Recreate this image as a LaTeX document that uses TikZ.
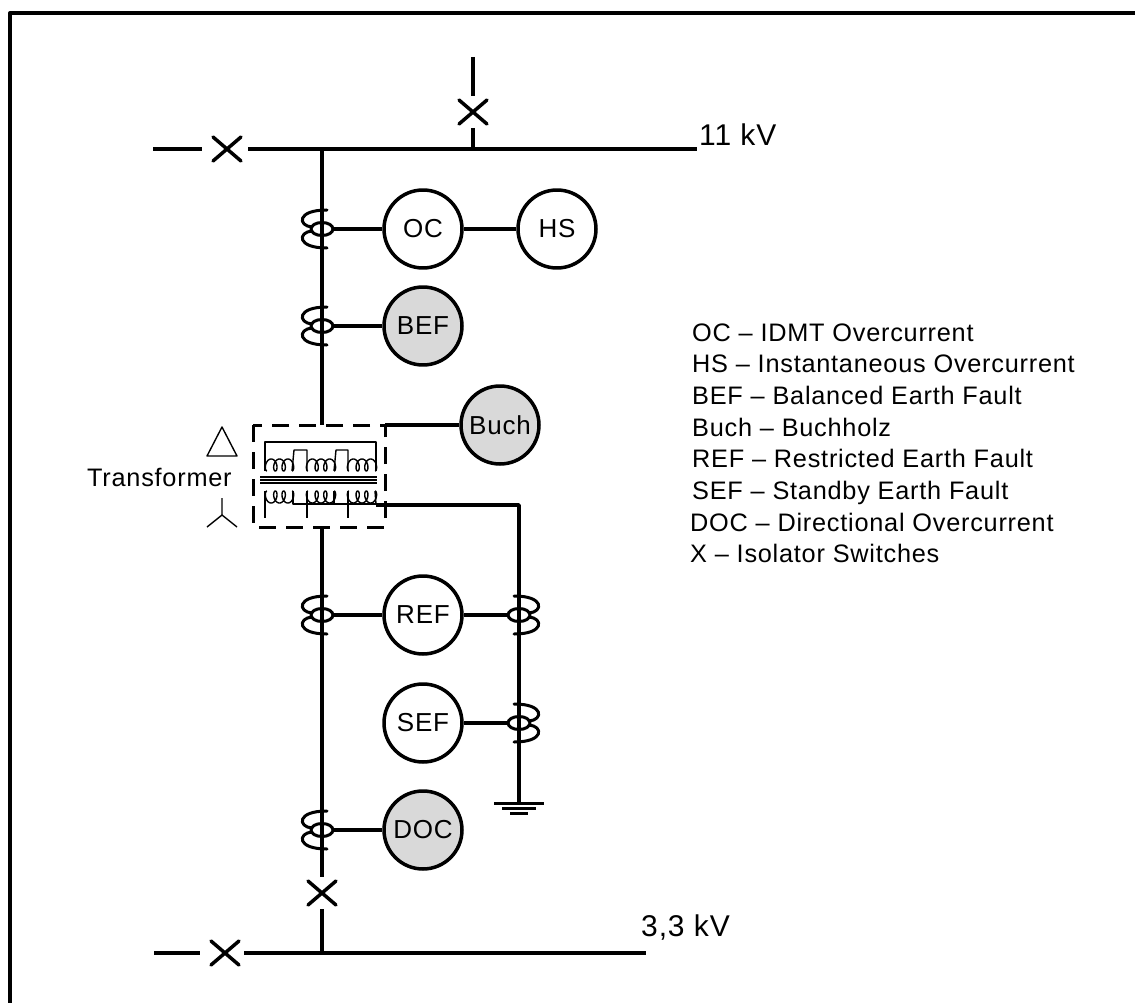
\documentclass[tikz,border=0pt]{standalone}
\usepackage{fontspec}
\setmainfont{Liberation Sans}[LetterSpace=3]
\usetikzlibrary{calc}
\definecolor{relaygray}{HTML}{D9D9D9}
\newcommand\primcoil[3]{%
  \draw[tline] plot[domain=0:1080,samples=121,smooth,variable=\t]
    ({#1+(#2-#1)*(\t/1080)-3.5*sin(\t)},{#3-6+6*cos(\t)});}
\newcommand\seccoil[3]{%
  \draw[tline] plot[domain=0:1080,samples=121,smooth,variable=\t]
    ({#1+(#2-#1)*(\t/1080)-3.5*sin(\t)},{#3+6-6*cos(\t)});}
\begin{document}
\begin{tikzpicture}[x=1pt,y=-1pt,line join=round,
  wire/.style={line width=3.5pt},
  tline/.style={line width=1.4pt},
  relay/.style={circle,draw,line width=3.5pt,minimum size=78pt,inner sep=0pt,fill=white,
    font=\fontsize{26}{30}\selectfont},
  grelay/.style={relay,fill=relaygray},
  lbl/.style={font=\fontsize{25.3}{29}\selectfont,inner sep=0pt,anchor=base west},
  kvlbl/.style={lbl,font=\fontsize{30}{34}\selectfont},
  iso/.pic={\draw[line width=3.5pt,line cap=round] (-14,-12)--(14,12) (-14,12)--(14,-12);},
  ct/.pic={\draw[line width=3pt,line cap=round] (5,-19) .. controls (-26,-19) and (-24,-3) .. (-10,-2);
           \draw[line width=3pt,line cap=round] (-10,2) .. controls (-24,3) and (-26,19) .. (5,19);
           \draw[line width=3pt] (0,0) ellipse (11 and 6.5);}
]
\useasboundingbox (0,0) rectangle (1135,1003);
% frame
\draw[line width=4pt] (10,1010) -- (10,13) -- (1145,13);

% ---------- 11 kV bus ----------
\coordinate (b1a) at (153,149); \coordinate (b1b) at (202,149);
\coordinate (b1c) at (248,149); \coordinate (b1d) at (697,149);
\coordinate (X1) at (227,149);
\draw[wire] (b1a) -- (b1b);
\pic at (X1) {iso};
\draw[wire] (b1c) -- (b1d);
\node[kvlbl] (kv11) at (699,146) {11 kV};
% incoming tap
\coordinate (t1) at (473,57); \coordinate (t2) at (473,96);
\coordinate (X2) at (473,112); \coordinate (t3) at (473,128); \coordinate (t4) at (473,149);
\draw[wire] (t1) -- (t2);
\pic at (X2) {iso};
\draw[wire] (t3) -- (t4);

% ---------- HV side ----------
\coordinate (m0) at (322,149);
\coordinate (ctOC) at (322,229);
\coordinate (ctBEF) at (322,326);
\coordinate (boxT) at (322,425);
\draw[wire] (m0) -- (boxT);
\pic at (ctOC) {ct};
\pic at (ctBEF) {ct};
\node[relay] (OC) at (423,229) {OC};
\node[relay] (HS) at (557,229) {HS};
\node[grelay] (BEF) at (423,326) {BEF};
\node[grelay] (Buch) at (500,425) {Buch};
\draw[wire] ($(ctOC)+(11,0)$) -- (OC.west);
\draw[wire] (OC.east) -- (HS.west);
\draw[wire] ($(ctBEF)+(11,0)$) -- (BEF.west);
\coordinate (boxTR) at (385,425);
\draw[wire] (boxTR) -- (Buch.west);

% ---------- transformer ----------
\draw[line width=3pt,dash pattern=on 17pt off 10pt] (253,425) rectangle (385,527);
% primary (delta)
\draw[tline] (265,471) -- (265,442) -- (376,442) -- (376,471);
\primcoil{267}{292}{471}
\draw[tline] (292,471) -- (294,450) -- (307,450) -- (307,471);
\primcoil{308}{334}{471}
\draw[tline] (334,471) -- (336,450) -- (348,450) -- (348,471);
\primcoil{349}{375}{471}
% core
\draw[tline,line width=1.2pt] (260,477) -- (377,477) (260,480) -- (377,480) (260,483) -- (377,483);
% secondary (star)
\seccoil{267}{292}{491}
\seccoil{308}{334}{491}
\seccoil{349}{375}{491}
\draw[tline] (265,491) -- (265,518);
\draw[tline] (307,491) -- (307,518);
\draw[tline] (348,491) -- (348,518);
\draw[tline] (293,491) -- (293,504) -- (376,504);
\draw[tline] (334,491) -- (334,504);
\draw[tline] (375,491) -- (376,504);
% vector symbols
\draw[tline] (207,456) -- (222,427) -- (237,456) -- cycle;
\draw[tline] (222,498) -- (222,515) (207,527) -- (222,515) -- (237,527);
\node[lbl] (trf) at (87,486) {Transformer};

% ---------- neutral ----------
\coordinate (n0) at (376,505); \coordinate (n1) at (519,505);
\coordinate (ctREFn) at (519,615); \coordinate (ctSEF) at (519,723);
\coordinate (gnd) at (519,803);
\draw[wire] (n0) -- (n1) -- (gnd);
\pic[xscale=-1] at (ctREFn) {ct};
\pic[xscale=-1] at (ctSEF) {ct};
\draw[line width=3pt] ($(gnd)+(-25,0)$) -- ($(gnd)+(25,0)$)
  ($(gnd)+(-17,5)$) -- ($(gnd)+(17,5)$)
  ($(gnd)+(-9,10)$) -- ($(gnd)+(9,10)$);

% ---------- LV side ----------
\coordinate (boxB) at (322,527);
\coordinate (ctREF) at (322,615);
\coordinate (ctDOC) at (322,830);
\coordinate (m1) at (322,877); \coordinate (X3) at (322,893);
\coordinate (m2) at (322,909); \coordinate (m3) at (322,953);
\draw[wire] (boxB) -- (m1);
\pic at (X3) {iso};
\draw[wire] (m2) -- (m3);
\pic at (ctREF) {ct};
\pic at (ctDOC) {ct};
\node[relay] (REF) at (423,615) {REF};
\node[relay] (SEF) at (423,723) {SEF};
\node[grelay] (DOC) at (423,830) {DOC};
\draw[wire] ($(ctREF)+(11,0)$) -- (REF.west);
\draw[wire] (REF.east) -- ($(ctREFn)+(-11,0)$);
\draw[wire] (SEF.east) -- ($(ctSEF)+(-11,0)$);
\draw[wire] ($(ctDOC)+(11,0)$) -- (DOC.west);

% ---------- 3,3 kV bus ----------
\coordinate (b2a) at (154,953); \coordinate (b2b) at (200,953);
\coordinate (b2c) at (244,953); \coordinate (b2d) at (646,953);
\coordinate (X4) at (225,953);
\draw[wire] (b2a) -- (b2b);
\pic at (X4) {iso};
\draw[wire] (b2c) -- (b2d);
\node[kvlbl] (kv33) at (641,936) {3,3 kV};

% ---------- legend ----------
\node[lbl] (L1) at (692,341.0) {OC – IDMT Overcurrent};
\node[lbl] (L2) at (692,372.7) {HS – Instantaneous Overcurrent};
\node[lbl] (L3) at (692,404.4) {BEF – Balanced Earth Fault};
\node[lbl] (L4) at (692,436.1) {Buch – Buchholz};
\node[lbl] (L5) at (692,467.8) {REF – Restricted Earth Fault};
\node[lbl] (L6) at (692,499.5) {SEF – Standby Earth Fault};
\node[lbl] (L7) at (690,531.2) {DOC – Directional Overcurrent};
\node[lbl] (L8) at (690,562.9) {X – Isolator Switches};
\end{tikzpicture}
\end{document}
